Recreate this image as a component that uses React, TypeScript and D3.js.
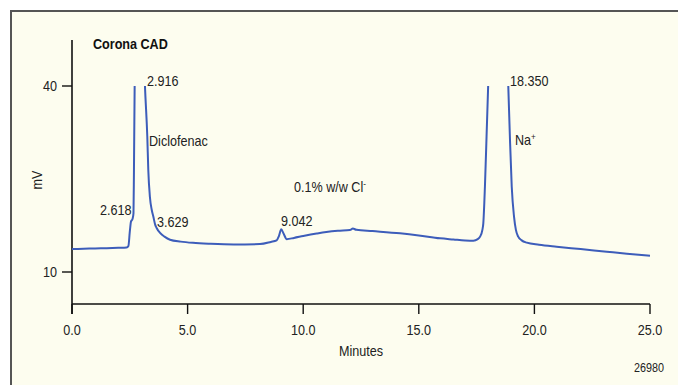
import React from "react";
import * as d3 from "d3";

const times = [0.0,0.5,1.0,1.5,2.0,2.36,2.44,2.5,2.55,2.62,2.66,2.68,2.71,2.93,3.157,3.257,3.3,3.37,3.45,3.52,3.6,3.66,3.81,4.0,4.24,4.7,5.23,6.0,7.0,8.13,8.6,8.85,8.95,9.05,9.15,9.29,9.6,10.0,10.58,11.0,11.5,12.02,12.15,12.3,13.0,14.19,15.0,15.92,16.5,17.0,17.36,17.55,17.65,17.75,17.79,17.86,17.93,18.0,18.35,18.87,18.94,19.02,19.12,19.2,19.3,19.45,19.67,20.2,20.96,22.0,23.13,24.0,25.0];
const signal = [13.7,13.75,13.8,13.85,13.9,13.95,14.2,16.5,18.1,18.6,19.5,26.5,40,70,39.9,31.8,26.45,22.1,20.0,18.9,17.6,17.1,16.3,15.7,15.2,14.9,14.7,14.55,14.45,14.5,14.85,15.1,15.8,16.9,16.2,15.3,15.5,15.8,16.2,16.45,16.65,16.77,17.0,16.8,16.6,16.24,15.9,15.43,15.25,15.1,15.05,15.3,15.7,16.8,17.85,23.76,31.8,40,75,40,31.8,23.76,18.9,16.8,15.7,15.1,14.73,14.4,14.08,13.7,13.27,12.95,12.63];

const xTicks = [0, 5, 10, 15, 20, 25];
const yTicks = [10, 40];

const FONT = "'Liberation Sans', Arial, sans-serif";
const SX = 0.9;

function T(props: {
  x: number;
  y: number;
  size?: number;
  anchor?: "start" | "middle" | "end";
  bold?: boolean;
  rotate?: number;
  children: React.ReactNode;
}) {
  const { x, y, size = 14, anchor = "start", bold = false, rotate = 0, children } = props;
  return (
    <text
      transform={`translate(${x},${y}) rotate(${rotate}) scale(${SX},1)`}
      textAnchor={anchor}
      fontSize={size}
      fontWeight={bold ? "bold" : "normal"}
      fill={bold ? "#111" : "#222"}
      fontFamily={FONT}
    >
      {children}
    </text>
  );
}

export default function App() {
  const x = d3.scaleLinear().domain([0, 25]).range([72, 650]);
  const y = d3.scaleLinear().domain([10, 40]).range([272, 86]);
  const pts = times.map((t, i) => [t, signal[i]] as [number, number]);
  const line = d3
    .line<[number, number]>()
    .x((d) => x(d[0]))
    .y((d) => y(d[1]))
    .curve(d3.curveMonotoneX);
  return (
    <svg
      width={678}
      height={385}
      style={{ position: "absolute", left: 0, top: 0, display: "block" }}
    >
      <rect x={0} y={0} width={678} height={385} fill="#fff" />
      <rect x={11} y={11} width={700} height={400} fill="#fdfdef" stroke="#555" strokeWidth={2} />
      <defs>
        <clipPath id="clip">
          <rect x={x(0)} y={y(40)} width={x(25) - x(0) + 5} height={300} />
        </clipPath>
      </defs>
      <line x1={x(0)} x2={x(0)} y1={40} y2={314} stroke="#111" strokeWidth={1.6} />
      <line x1={x(0)} x2={x(25)} y1={304} y2={304} stroke="#111" strokeWidth={1.6} />
      {xTicks.map((t) => (
        <g key={t}>
          <line x1={x(t)} x2={x(t)} y1={304} y2={314} stroke="#111" strokeWidth={1.4} />
          <T x={x(t)} y={335} anchor="middle">
            {t.toFixed(1)}
          </T>
        </g>
      ))}
      {yTicks.map((v) => (
        <g key={v}>
          <line x1={62} x2={x(0)} y1={y(v)} y2={y(v)} stroke="#111" strokeWidth={1.4} />
          <T x={57} y={y(v) + 5} anchor="end">
            {v}
          </T>
        </g>
      ))}
      <T x={42} y={180} anchor="middle" rotate={-90}>
        mV
      </T>
      <T x={361} y={356} anchor="middle">
        Minutes
      </T>
      <T x={664} y={372} anchor="end" size={12}>
        26980
      </T>
      <T x={93} y={49} bold>
        Corona CAD
      </T>
      <path d={line(pts) || ""} fill="none" stroke="#3d5dba" strokeWidth={2} clipPath="url(#clip)" />
      <T x={147} y={86}>2.916</T>
      <T x={149} y={146}>Diclofenac</T>
      <T x={100} y={215}>2.618</T>
      <T x={157} y={227}>3.629</T>
      <T x={281} y={226}>9.042</T>
      <T x={294} y={192}>
        0.1% w/w Cl<tspan fontSize={9} dy={-5}>-</tspan>
      </T>
      <T x={510} y={86}>18.350</T>
      <T x={515} y={145}>
        Na<tspan fontSize={9} dy={-5}>+</tspan>
      </T>
    </svg>
  );
}
